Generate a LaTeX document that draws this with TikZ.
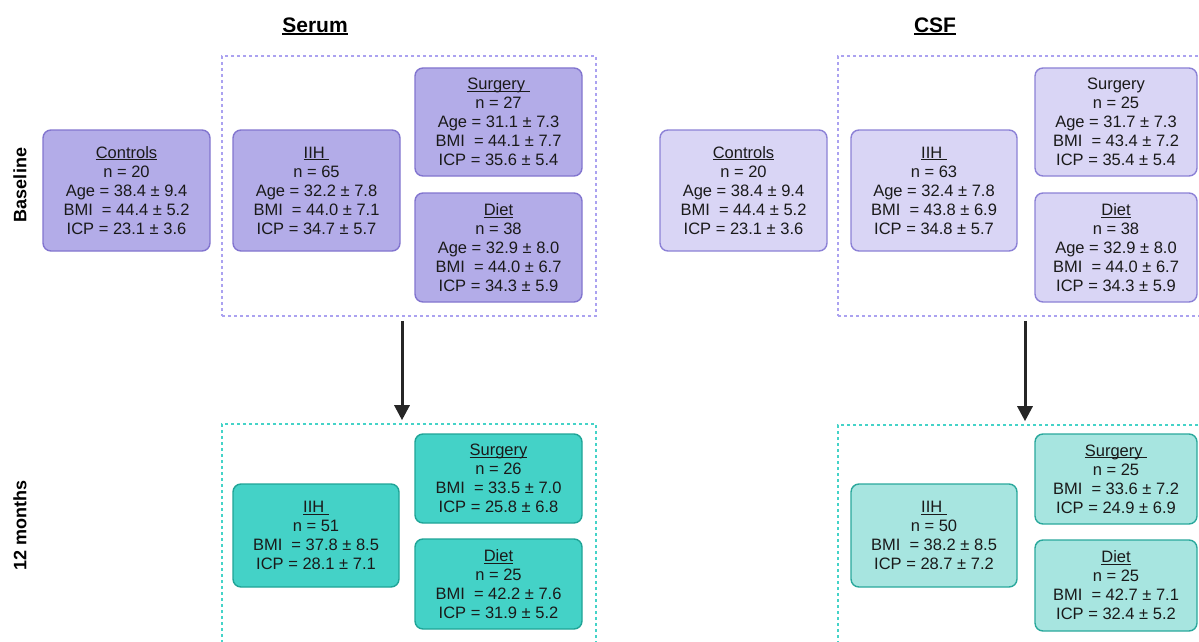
\documentclass[tikz,border=0pt]{standalone}
\usepackage{fontspec}
\setmainfont{Liberation Sans}
\usetikzlibrary{arrows.meta}
\definecolor{sfill}{HTML}{B3ACE8}
\definecolor{sdraw}{HTML}{8275CF}
\definecolor{cfill}{HTML}{D9D5F5}
\definecolor{cdraw}{HTML}{8C81D6}
\definecolor{tfill}{HTML}{44D2C7}
\definecolor{tdraw}{HTML}{1FA497}
\definecolor{lfill}{HTML}{A7E5E0}
\definecolor{ldraw}{HTML}{2AA89C}
\definecolor{dlav}{HTML}{ABA2F0}
\definecolor{dteal}{HTML}{45D3C8}
\definecolor{txt}{HTML}{1A1A1A}
\tikzset{
  grp/.style={rounded corners=8pt, line width=1.4pt, align=center, inner sep=0pt,
    font=\fontsize{16.5}{19}\selectfont, text=txt},
  sbase/.style={grp, fill=sfill, draw=sdraw},
  cbase/.style={grp, fill=cfill, draw=cdraw},
  smon/.style={grp, fill=tfill, draw=tdraw},
  cmon/.style={grp, fill=lfill, draw=ldraw},
  frame/.style={line width=1.6pt, dash pattern=on 3pt off 3pt, inner sep=0pt},
  ttl/.style={font=\fontsize{21}{24}\selectfont\bfseries, text=black},
  side/.style={font=\fontsize{18}{20}\selectfont\bfseries, text=black, rotate=90},
  flow/.style={line width=3pt, draw=black!85, -{Triangle[length=15pt,width=15pt]}, shorten <=4pt, shorten >=3pt}
}
\newcommand{\ul}[1]{\setbox0\hbox{#1}\rlap{\rule[-2pt]{\wd0}{0.9pt}}\box0}
\newcommand{\ult}[1]{\setbox0\hbox{#1}\rlap{\rule[-2.5pt]{\wd0}{1.4pt}}\box0}
\begin{document}
\begin{tikzpicture}[x=1pt,y=-1pt]
\useasboundingbox (0,0) rectangle (1199,642);
\clip (0,0) rectangle (1199,642);
% titles
\node[ttl] (tserum) at (315,26) {\ult{Serum}};
\node[ttl] (tcsf) at (935,26) {\ult{CSF}};
\node[side] (lbase) at (20,185) {Baseline};
\node[side] (lmon) at (20,525) {12 months};
% dashed frames
\node[frame, draw=dlav, minimum width=374pt, minimum height=260pt] (sbf) at (409,186) {};
\node[frame, draw=dteal, minimum width=374pt, minimum height=260pt] (smf) at (409,554) {};
\node[frame, draw=dlav, minimum width=374pt, minimum height=260pt] (cbf) at (1025,186) {};
\node[frame, draw=dteal, minimum width=374pt, minimum height=260pt] (cmf) at (1025,555) {};
% serum baseline
\node[sbase, minimum width=167pt, minimum height=121pt] (sctl) at (126.5,190.5)
  {\ul{Controls}\\n = 20\\Age = 38.4 ± 9.4\\BMI\ \ = 44.4 ± 5.2\\ICP = 23.1 ± 3.6};
\node[sbase, minimum width=167pt, minimum height=121pt] (siih) at (316.5,190.5)
  {\ul{IIH\ }\\n = 65\\Age = 32.2 ± 7.8\\BMI\ \ = 44.0 ± 7.1\\ICP = 34.7 ± 5.7};
\node[sbase, minimum width=167pt, minimum height=108pt] (ssur) at (498.5,122)
  {\ul{Surgery\ }\\n = 27\\Age = 31.1 ± 7.3\\BMI\ \ = 44.1 ± 7.7\\ICP = 35.6 ± 5.4};
\node[sbase, minimum width=167pt, minimum height=109pt] (sdie) at (498.5,247.5)
  {\ul{Diet}\\n = 38\\Age = 32.9 ± 8.0\\BMI\ \ = 44.0 ± 6.7\\ICP = 34.3 ± 5.9};
% serum 12 months
\node[smon, minimum width=166pt, minimum height=103pt] (smiih) at (316,535.5)
  {\ul{IIH\ }\\n = 51\\BMI\ \ = 37.8 ± 8.5\\ICP = 28.1 ± 7.1};
\node[smon, minimum width=167pt, minimum height=89pt] (smsur) at (498.5,478.5)
  {\ul{Surgery}\\n = 26\\BMI\ \ = 33.5 ± 7.0\\ICP = 25.8 ± 6.8};
\node[smon, minimum width=167pt, minimum height=90pt] (smdie) at (498.5,584)
  {\ul{Diet}\\n = 25\\BMI\ \ = 42.2 ± 7.6\\ICP = 31.9 ± 5.2};
% csf baseline
\node[cbase, minimum width=167pt, minimum height=121pt] (cctl) at (743.5,190.5)
  {\ul{Controls}\\n = 20\\Age = 38.4 ± 9.4\\BMI\ \ = 44.4 ± 5.2\\ICP = 23.1 ± 3.6};
\node[cbase, minimum width=166pt, minimum height=121pt] (ciih) at (934,190.5)
  {\ul{IIH\ }\\n = 63\\Age = 32.4 ± 7.8\\BMI\ \ = 43.8 ± 6.9\\ICP = 34.8 ± 5.7};
\node[cbase, minimum width=162pt, minimum height=108pt] (csur) at (1116,122)
  {Surgery\\n = 25\\Age = 31.7 ± 7.3\\BMI\ \ = 43.4 ± 7.2\\ICP = 35.4 ± 5.4};
\node[cbase, minimum width=162pt, minimum height=109pt] (cdie) at (1116,247.5)
  {\ul{Diet}\\n = 38\\Age = 32.9 ± 8.0\\BMI\ \ = 44.0 ± 6.7\\ICP = 34.3 ± 5.9};
% csf 12 months
\node[cmon, minimum width=166pt, minimum height=103pt] (cmiih) at (934,535.5)
  {\ul{IIH\ }\\n = 50\\BMI\ \ = 38.2 ± 8.5\\ICP = 28.7 ± 7.2};
\node[cmon, minimum width=162pt, minimum height=90pt] (cmsur) at (1116,479)
  {\ul{Surgery\ }\\n = 25\\BMI\ \ = 33.6 ± 7.2\\ICP = 24.9 ± 6.9};
\node[cmon, minimum width=162pt, minimum height=91pt] (cmdie) at (1116,585.5)
  {\ul{Diet}\\n = 25\\BMI\ \ = 42.7 ± 7.1\\ICP = 32.4 ± 5.2};
% arrows
\draw[flow] ([xshift=-7pt]sbf.south) -- ([xshift=-7pt]smf.north);
\draw[flow] ([xshift=0pt]cbf.south) -- ([xshift=0pt]cmf.north);
\end{tikzpicture}
\end{document}
